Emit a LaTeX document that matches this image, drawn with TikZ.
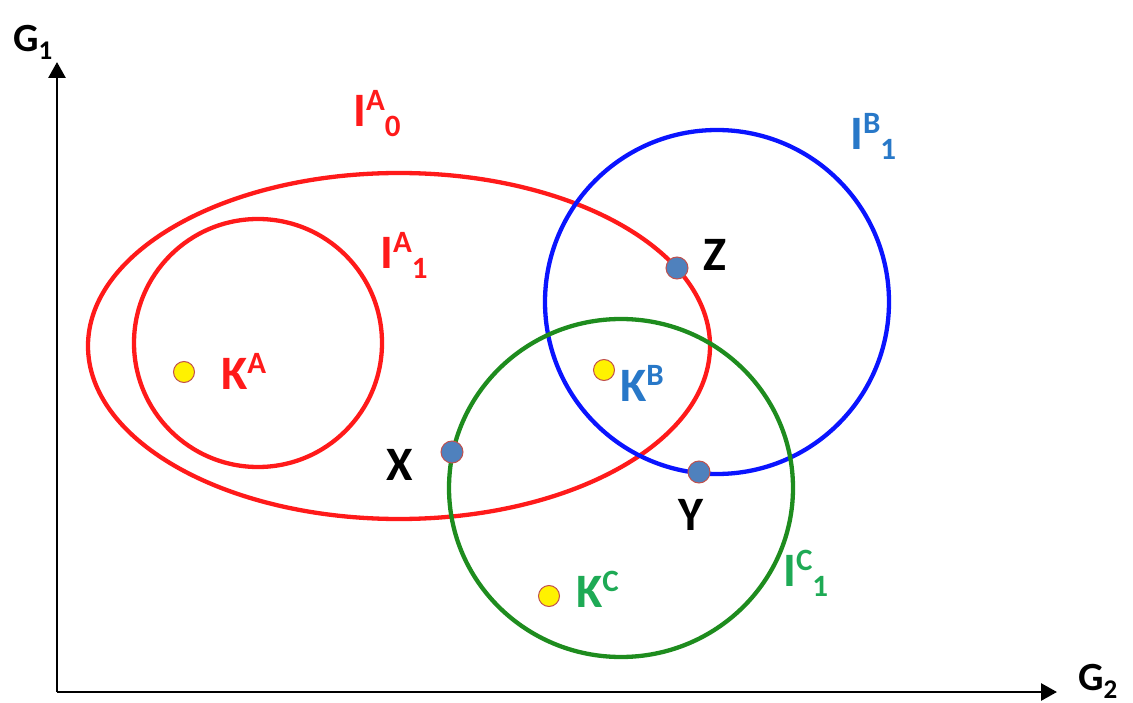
\documentclass[tikz,border=0pt]{standalone}
\usepackage{fontspec}
\setmainfont{Carlito}
\usetikzlibrary{arrows.meta}
\definecolor{cred}{HTML}{FF1A1A}
\definecolor{cblue}{HTML}{0A14FF}
\definecolor{cgreen}{HTML}{1E8C1E}
\definecolor{lblue}{HTML}{2878C8}
\definecolor{lgreen}{HTML}{1EAA55}
\definecolor{dotblue}{HTML}{4F81BD}
\definecolor{dotedge}{HTML}{C0504D}
\newcommand{\mylab}[3]{{\fontsize{48}{48}\selectfont #1}\raisebox{16pt}{\fontsize{31}{31}\selectfont #2}\raisebox{-10pt}{\fontsize{31}{31}\selectfont #3}}
\begin{document}
\begin{tikzpicture}[x=1pt,y=-1pt,font=\bfseries,
  curve/.style={line width=4.3pt},
  axis/.style={line width=2.8pt,-{Triangle[length=16pt,width=17pt]}},
  ydot/.style={circle,fill=yellow,draw=dotedge,line width=1pt,minimum size=21pt,inner sep=0pt},
  bdot/.style={circle,fill=dotblue,draw=dotedge,line width=1pt,minimum size=22pt,inner sep=0pt},
  lab/.style={inner sep=0pt,font=\bfseries\fontsize{48}{48}\selectfont}]
\useasboundingbox (0,0) rectangle (1133,703);
% axes
\coordinate (O) at (57,692);
\coordinate (ytip) at (57,62);
\coordinate (xtip) at (1057,692);
\draw[axis] (O) -- (ytip);
\draw[axis] (O) -- (xtip);
\node[inner sep=0pt,anchor=base west] (G1) at (13,52) {{\fontsize{40}{40}\selectfont G}\raisebox{-8pt}{\fontsize{27}{27}\selectfont 1}};
\node[inner sep=0pt,anchor=base west] (G2) at (1078,690) {{\fontsize{40}{40}\selectfont G}\raisebox{-8pt}{\fontsize{27}{27}\selectfont 2}};
% curves
\draw[curve,cred] (399,346) ellipse [x radius=311,y radius=173];
\draw[curve,cred] (258,343) circle [radius=124];
\draw[curve,cblue] (717,302) circle [radius=172];
\draw[curve,cgreen] (621,488) ellipse [x radius=172,y radius=169];
% points
\node[ydot] (KA) at (184,372) {};
\node[ydot] (KB) at (604,370) {};
\node[ydot] (KC) at (549,596) {};
\node[bdot] (X) at (452,452) {};
\node[bdot] (Z) at (677,268) {};
\node[bdot] (Y) at (699,472) {};
% labels
\node[inner sep=0pt,anchor=base west,text=cred] (IA0) at (353,127) {\mylab{I}{A}{0}};
\node[inner sep=0pt,anchor=base west,text=cred] (IA1) at (380,269) {\mylab{I}{A}{1}};
\node[inner sep=0pt,anchor=base west,text=lblue] (IB1) at (850,150) {\mylab{I}{B}{1}};
\node[inner sep=0pt,anchor=base west,text=lgreen] (IC1) at (783,586) {\mylab{I}{C}{1}};
\node[inner sep=0pt,anchor=base west,text=cred] (LKA) at (221,389) {\mylab{K}{A}{}};
\node[inner sep=0pt,anchor=base west,text=lblue] (LKB) at (620,401) {\mylab{K}{B}{}};
\node[inner sep=0pt,anchor=base west,text=lgreen] (LKC) at (576,607) {\mylab{K}{C}{}};
\node[lab,anchor=base west] (LX) at (386,480) {X};
\node[lab,anchor=base west] (LZ) at (703,271) {Z};
\node[lab,anchor=base west] (LY) at (678,530) {Y};
\end{tikzpicture}
\end{document}
